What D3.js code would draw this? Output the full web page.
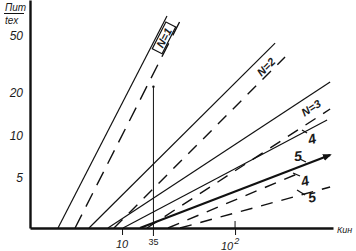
<!DOCTYPE html>
<html>
<head>
<meta charset="utf-8">
<script src="https://cdn.jsdelivr.net/npm/d3@7"></script>
<style>
  body { margin: 0; background: #fff; }
  text { font-family: "Liberation Sans Narrow", "Liberation Sans", Arial, sans-serif; fill: #1a1a1a; }
</style>
</head>
<body>
<div id="chart"></div>
<script>
// values: x = Кин (linear), y = П / tex (log)
const curveNames = ["N=1", "N=2", "N=3", "4", "5"];
const solidFrom = [-41.0, -16.3, -1.2, 10.8, 24.3];      // Кин where each solid line leaves the axis
const solidTo = [[45.8, 69.2], [131.9, 44.6], [175.7, 23.7], [173.3, 12.8], [175.7, 7.26]];
const dashFrom = [-27.4, 3.6, 29.9, 46.6, 56.2];          // same for the dashed lines
const dashTo = [[58.6, 70.3], [139.8, 35.6], [175.7, 15.3], [151.8, 5.44], [175.7, 4.32]];
const yTicks = [5, 10, 20, 50];
const xTicks = [10, 100];
const markerK = 35, markerP = 22;   // vertical reference line
const yBase = 2.22, yTop = 89.7;
const xMin = -63.3, xMax = 178;

const width = 356, height = 251;

const svg = d3.select("#chart").append("svg")
    .attr("width", width)
    .attr("height", height);

// scales
const x = d3.scaleLinear().domain([xMin, xMax]).range([30, 333]);
const y = d3.scaleLog().domain([yBase, yTop]).range([228, 0]);

const line = d3.line()
    .x(d => x(d[0]))
    .y(d => y(d[1]));

// arrow head for the thick line
svg.append("defs").append("marker")
    .attr("id", "arr")
    .attr("viewBox", "0 0 10 10")
    .attr("refX", 8).attr("refY", 5)
    .attr("markerWidth", 4).attr("markerHeight", 4)
    .attr("orient", "auto")
    .append("path")
    .attr("d", "M0,1 L10,5 L0,9 Z")
    .attr("fill", "#111");

// solid and dashed lines
curveNames.forEach(function (n, i) {
    svg.append("path")
        .datum([[solidFrom[i], yBase], solidTo[i]])
        .attr("fill", "none")
        .attr("stroke", "#111")
        .attr("stroke-width", i == 4 ? 2.2 : 1.2)
        .attr("marker-end", i == 4 ? "url(#arr)" : null)
        .attr("d", line);

    svg.append("path")
        .datum([[dashFrom[i], yBase], dashTo[i]])
        .attr("fill", "none")
        .attr("stroke", "#111")
        .attr("stroke-width", 1.4)
        .attr("stroke-dasharray", i == 0 ? "15,9" : "12,9")
        .attr("d", line);
});

// vertical marker at Кин = 35
svg.append("line")
    .attr("x1", x(markerK)).attr("x2", x(markerK))
    .attr("y1", y(markerP)).attr("y2", y(yBase) + 8)
    .attr("stroke", "#111")
    .attr("stroke-width", 1);
svg.append("circle")
    .attr("cx", x(markerK)).attr("cy", y(markerP))
    .attr("r", 1.2).attr("fill", "#111");

// y axis
const yAxis = svg.append("g")
    .attr("transform", `translate(${x(xMin)},0)`)
    .call(d3.axisLeft(y)
        .tickValues(yTicks)
        .tickSize(0)
        .tickPadding(7)
        .tickFormat(d3.format("d")));
yAxis.select(".domain").attr("stroke", "#111").attr("stroke-width", 2.4);
yAxis.selectAll("text")
    .attr("font-size", 12)
    .attr("font-style", "italic")
    .attr("font-family", null)
    .attr("fill", "#1a1a1a");

// x axis
const xAxis = svg.append("g")
    .attr("transform", `translate(0,${y(yBase)})`)
    .call(d3.axisBottom(x)
        .tickValues(xTicks)
        .tickSizeInner(7)
        .tickSizeOuter(0)
        .tickFormat(""));
xAxis.select(".domain").attr("stroke", "#111").attr("stroke-width", 2.6);
xAxis.selectAll(".tick line").attr("stroke", "#111").attr("stroke-width", 1);
// the 10^2 tick also runs up above the axis
svg.append("line")
    .attr("x1", x(100)).attr("x2", x(100))
    .attr("y1", y(yBase) - 7).attr("y2", y(yBase))
    .attr("stroke", "#111");

// x tick labels
svg.append("text")
    .attr("x", x(10)).attr("y", 248)
    .attr("text-anchor", "middle")
    .attr("font-size", 11).attr("font-style", "italic")
    .text("10");
svg.append("text")
    .attr("x", x(markerK)).attr("y", 245)
    .attr("text-anchor", "middle")
    .attr("font-size", 9)
    .text("35");
const t100 = svg.append("text")
    .attr("x", x(100) - 5).attr("y", 250)
    .attr("text-anchor", "middle")
    .attr("font-size", 11).attr("font-style", "italic");
t100.append("tspan").text("10");
t100.append("tspan").attr("dy", -6).attr("dx", 1).attr("font-size", 9).text("2");

// axis titles
svg.append("text")
    .attr("x", 337).attr("y", 233)
    .attr("font-size", 9).attr("font-style", "italic")
    .text("Кин");
svg.append("text")
    .attr("x", 5).attr("y", 11)
    .attr("font-size", 10).attr("font-style", "italic")
    .text("Пит");
svg.append("line")
    .attr("x1", 4).attr("x2", 24)
    .attr("y1", 13.5).attr("y2", 13.5)
    .attr("stroke", "#111");
svg.append("text")
    .attr("x", 5).attr("y", 24)
    .attr("font-size", 10).attr("font-style", "italic")
    .text("tex");

// curve labels, placed in data units: [Кин, П, angle]
const labelSpots = [[43.4, 48.5, -63], [124.6, 30.3, -45], [160.5, 15.6, -33],
    [161.3, 9.41, -15], [150.1, 7.14, -5], [155.7, 4.76, -15], [161.3, 3.67, -10]];
const labelTexts = ["N=1", "N=2", "N=3", "4", "5", "4", "5"];
// leader ticks next to the digit labels, offsets in px from the label centre
const leaders = [null, null, null, [-10, -9, -5, -6], [2, 3, 8, 6], [-12, -8, -5, -5], [-15, -7, -7, -2]];

labelSpots.forEach(function (s, i) {
    const g = svg.append("g")
        .attr("transform", `translate(${x(s[0])},${y(s[1])})`);
    if (leaders[i]) {
        const l = leaders[i];
        g.append("line")
            .attr("x1", l[0]).attr("y1", l[1])
            .attr("x2", l[2]).attr("y2", l[3])
            .attr("stroke", "#111")
            .attr("stroke-width", 1.3);
    }
    const r = g.append("g").attr("transform", `rotate(${s[2]})`);
    if (i == 0) {
        r.append("rect")
            .attr("x", -15).attr("y", -5.5)
            .attr("width", 30).attr("height", 11)
            .attr("fill", "#fff")
            .attr("stroke", "#111")
            .attr("stroke-width", 1.2);
    }
    r.append("text")
        .attr("text-anchor", "middle")
        .attr("dy", "0.36em")
        .attr("font-size", i >= 3 ? 14 : 11)
        .attr("font-weight", "bold")
        .attr("font-style", "italic")
        .text(labelTexts[i]);
});
</script>
</body>
</html>
